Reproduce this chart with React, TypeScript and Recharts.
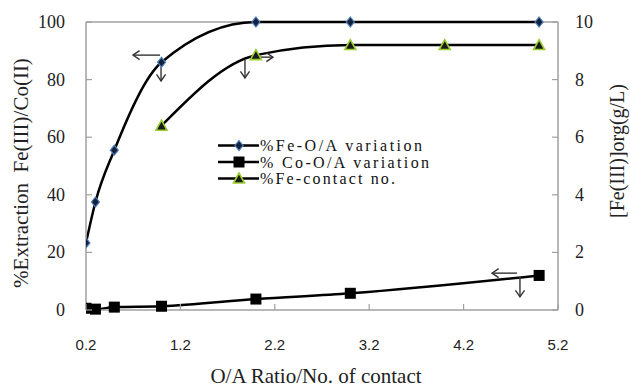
import React from "react";
import {
  LineChart,
  Line,
  XAxis,
  YAxis,
  Legend,
  Label,
  ReferenceLine,
  ReferenceDot,
} from "recharts";

// O/A ratio series
const oaRatio = [0.2, 0.3, 0.5, 1, 2, 3, 5];
const feOA = [23.3, 37.5, 55.5, 86, 100, 100, 100];
const coOA = [0.6, 0.3, 1.0, 1.3, 3.8, 5.8, 12];

// contact number series (right axis, g/L)
const contactNo = [1, 2, 3, 4, 5];
const feContact = [6.4, 8.85, 9.2, 9.2, 9.2];

const xTicks = [0.2, 1.2, 2.2, 3.2, 4.2, 5.2];
const leftTicks = [0, 20, 40, 60, 80, 100];
const rightTicks = [0, 2, 4, 6, 8, 10];

const feData = oaRatio.map((x, i) => ({ x, y: feOA[i] }));
const coData = oaRatio.map((x, i) => ({ x, y: coOA[i] }));
const contactData = contactNo.map((x, i) => ({ x, y: feContact[i] }));

const SERIF = "'Liberation Serif', 'Times New Roman', serif";
const SANS = "'Liberation Sans', Arial, sans-serif";
const AXIS = "#a0a0a0";

// little arrows drawn next to the curves: anchor in data units, vector in px
const arrows = [
  { x: 0.984, y: 88.5, dx: -27, dy: 0 },
  { x: 0.995, y: 84.4, dx: 0, dy: 14 },
  { x: 1.884, y: 86.8, dx: 0, dy: 18 },
  { x: 2.011, y: 87.8, dx: 16, dy: 0 },
  { x: 4.766, y: 12.8, dx: -25, dy: 0 },
  { x: 4.797, y: 11.5, dx: 0, dy: 20 },
];

const Diamond = ({ cx, cy }: any) => (
  <path
    d={`M${cx},${cy - 5}L${cx + 4},${cy}L${cx},${cy + 5}L${cx - 4},${cy}Z`}
    fill="#14213d"
    stroke="#4f81bd"
    strokeWidth={1.2}
  />
);

const Square = ({ cx, cy }: any) => (
  <rect x={cx - 5.5} y={cy - 5.5} width={11} height={11} fill="#000" />
);

const Triangle = ({ cx, cy }: any) => (
  <path
    d={`M${cx},${cy - 5.5}L${cx + 5.5},${cy + 4.5}L${cx - 5.5},${cy + 4.5}Z`}
    fill="#1a1a1a"
    stroke="#9acd32"
    strokeWidth={1.6}
  />
);

const Arrow = ({ cx, cy, dx, dy }: any) => {
  const ex = cx + dx;
  const ey = cy + dy;
  const len = Math.hypot(dx, dy);
  const ux = dx / len;
  const uy = dy / len;
  const h = 8;
  const a = 0.6;
  const p1x = ex - h * (ux * Math.cos(a) - uy * Math.sin(a));
  const p1y = ey - h * (uy * Math.cos(a) + ux * Math.sin(a));
  const p2x = ex - h * (ux * Math.cos(a) + uy * Math.sin(a));
  const p2y = ey - h * (uy * Math.cos(a) - ux * Math.sin(a));
  return (
    <g stroke="#333" strokeWidth={1.4} fill="none">
      <line x1={cx} y1={cy} x2={ex} y2={ey} />
      <polyline points={`${p1x},${p1y} ${ex},${ey} ${p2x},${p2y}`} />
    </g>
  );
};

const LeftTick = ({ x, y, payload }: any) => (
  <g>
    <line x1={x} y1={y} x2={x + 6} y2={y} stroke={AXIS} strokeWidth={1.2} />
    <text x={x - 21} y={y + 6} textAnchor="end" fontFamily={SERIF} fontSize={18} fill="#222">
      {payload.value}
    </text>
  </g>
);

const RightTick = ({ x, y, payload }: any) => (
  <g>
    <line x1={x - 6} y1={y} x2={x} y2={y} stroke={AXIS} strokeWidth={1.2} />
    <text x={x + 17} y={y + 6} textAnchor="start" fontFamily={SERIF} fontSize={18} fill="#222">
      {payload.value}
    </text>
  </g>
);

const BottomTick = ({ x, y, payload }: any) => (
  <g>
    <line x1={x} y1={y} x2={x} y2={y - 6} stroke={AXIS} strokeWidth={1.2} />
    <text x={x} y={y + 40} textAnchor="middle" fontFamily={SANS} fontSize={15} fill="#222">
      {payload.value.toFixed(1)}
    </text>
  </g>
);

const legendRows = [
  { label: "%Fe-O/A variation", Marker: Diamond, len: 162 },
  { label: "% Co-O/A variation", Marker: Square, len: 169 },
  { label: "%Fe-contact no.", Marker: Triangle, len: 135 },
];

const LegendBox = () => (
  <svg width={230} height={56} style={{ display: "block" }}>
    {legendRows.map(({ label, Marker, len }, i) => {
      const cy = 10.5 + i * 16.5;
      return (
        <g key={label}>
          <line x1={0} y1={cy} x2={41} y2={cy} stroke="#000" strokeWidth={2.5} />
          <Marker cx={21} cy={cy} />
          <text
            x={42}
            y={cy + 5.5}
            fontFamily={SERIF}
            fontSize={16}
            fill="#111"
            textLength={len}
            lengthAdjust="spacing"
            style={{ whiteSpace: "pre" }}
          >
            {label}
          </text>
        </g>
      );
    })}
  </svg>
);

export default function App() {
  return (
    <div style={{ position: "absolute", left: 0, top: 0, background: "#fff" }}>
      <LineChart width={630} height={387} margin={{ top: 22, right: 0, left: 0, bottom: 0 }}>
        <XAxis
          type="number"
          dataKey="x"
          domain={[0.2, 5.2]}
          ticks={xTicks}
          allowDataOverflow
          height={77}
          tickSize={0}
          tickMargin={0}
          tick={<BottomTick />}
          axisLine={{ stroke: AXIS, strokeWidth: 1.5 }}
        >
          <Label
            content={({ viewBox }: any) => (
              <text
                x={viewBox.x + viewBox.width / 2 - 6}
                y={viewBox.y + 73}
                textAnchor="middle"
                fontFamily={SERIF}
                fontSize={21}
                fill="#222"
              >
                O/A Ratio/No. of contact
              </text>
            )}
          />
        </XAxis>
        <YAxis
          yAxisId="left"
          orientation="left"
          domain={[0, 100]}
          ticks={leftTicks}
          width={86}
          tickSize={0}
          tickMargin={0}
          tick={<LeftTick />}
          axisLine={{ stroke: AXIS, strokeWidth: 1.5 }}
        >
          <Label
            content={({ viewBox }: any) => {
              const cx = 28;
              const cy = viewBox.y + viewBox.height / 2 + 7;
              return (
                <text
                  x={cx}
                  y={cy}
                  transform={`rotate(-90 ${cx} ${cy})`}
                  textAnchor="middle"
                  fontFamily={SERIF}
                  fontSize={21}
                  fill="#222"
                  style={{ whiteSpace: "pre" }}
                >
                  {"%Extraction  Fe(III)/Co(II)"}
                </text>
              );
            }}
          />
        </YAxis>
        <YAxis
          yAxisId="right"
          orientation="right"
          domain={[0, 10]}
          ticks={rightTicks}
          width={72}
          tickSize={0}
          tickMargin={0}
          tick={<RightTick />}
          axisLine={{ stroke: AXIS, strokeWidth: 1.5 }}
        >
          <Label
            content={({ viewBox }: any) => {
              const cx = viewBox.x + 66;
              const cy = 151;
              return (
                <text
                  x={cx}
                  y={cy}
                  transform={`rotate(-90 ${cx} ${cy})`}
                  textAnchor="middle"
                  fontFamily={SERIF}
                  fontSize={20}
                  fill="#222"
                >
                  [Fe(III)]org(g/L)
                </text>
              );
            }}
          />
        </YAxis>
        <ReferenceLine yAxisId="left" y={100} stroke={AXIS} strokeWidth={1.5} />
        <Legend
          layout="vertical"
          align="center"
          verticalAlign="middle"
          content={() => <LegendBox />}
          wrapperStyle={{ left: 218, top: 135, width: 230 }}
        />
        <Line
          yAxisId="left"
          data={feData}
          dataKey="y"
          type="monotone"
          stroke="#000"
          strokeWidth={2.5}
          dot={<Diamond />}
          isAnimationActive={false}
        />
        <Line
          yAxisId="left"
          data={coData}
          dataKey="y"
          type="monotone"
          stroke="#000"
          strokeWidth={2.5}
          dot={<Square />}
          isAnimationActive={false}
        />
        <Line
          yAxisId="right"
          data={contactData}
          dataKey="y"
          type="monotone"
          stroke="#000"
          strokeWidth={2.5}
          dot={<Triangle />}
          isAnimationActive={false}
        />
        {arrows.map((a, i) => (
          <ReferenceDot
            key={i}
            yAxisId="left"
            x={a.x}
            y={a.y}
            shape={(p: any) => <Arrow cx={p.cx} cy={p.cy} dx={a.dx} dy={a.dy} />}
          />
        ))}
      </LineChart>
    </div>
  );
}
